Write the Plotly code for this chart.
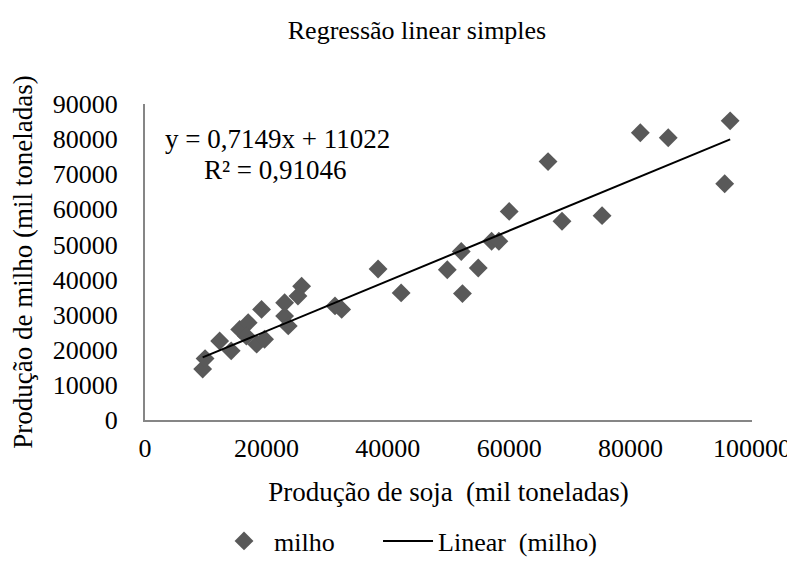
import plotly.graph_objects as go

soja = [9500, 9900, 12300, 14200, 15600, 17000, 16700, 18400, 19700, 19200,
        23000, 23000, 23600, 25800, 25200, 31300, 32400,
        38400, 42200, 49800, 52100, 54900, 52300, 57100, 58300,
        60000, 66400, 68700, 75300, 81600, 86200, 96400, 95500]
milho = [14500, 17500, 22500, 19700, 25800, 27700, 23900, 21600, 23000, 31500,
         33400, 29600, 26800, 38100, 35300, 32500, 31500,
         43000, 36200, 42800, 48000, 43300, 36000, 50900, 50900,
         59400, 73600, 56600, 58200, 81800, 80400, 85200, 67300]

slope = 0.7149
intercept = 11022
r2_text = "R² = 0,91046"
eq_text = "y = 0,7149x + 11022"

x_ticks = [0, 20000, 40000, 60000, 80000, 100000]
y_ticks = [0, 10000, 20000, 30000, 40000, 50000, 60000, 70000, 80000, 90000]

xmin, xmax = min(soja), max(soja)
trend_x = [xmin, xmax]
trend_y = [slope * v + intercept for v in trend_x]

FONT = "Liberation Serif"
FS = 26

# the page body adds an 8px margin, so the figure is drawn 8px smaller
W, H = 787, 561

fig = go.Figure()
fig.add_trace(go.Scatter(
    x=soja, y=milho, mode="markers", name="milho", legend="legend",
    marker=dict(symbol="diamond", size=14.5, color="#595959"),
))
fig.add_trace(go.Scatter(
    x=trend_x, y=trend_y, mode="lines", name="Linear  (milho)", legend="legend2",
    line=dict(color="black", width=2),
))

fig.add_annotation(x=0.0297, y=0.889, xref="paper", yref="paper", text=eq_text,
                   showarrow=False, xanchor="left", yanchor="middle",
                   font=dict(family=FONT, size=27, color="black"))
fig.add_annotation(x=0.0935, y=0.791, xref="paper", yref="paper", text=r2_text,
                   showarrow=False, xanchor="left", yanchor="middle",
                   font=dict(family=FONT, size=27, color="black"))

leg_common = dict(orientation="h", yanchor="middle", y=-0.383, xanchor="left",
                  font=dict(family=FONT, size=FS), itemwidth=50,
                  bgcolor="rgba(0,0,0,0)")

fig.update_layout(
    width=W, height=H,
    paper_bgcolor="white", plot_bgcolor="white",
    margin=dict(l=137, r=43, t=96, b=149, autoexpand=False),
    font=dict(family=FONT, size=FS, color="black"),
    title=dict(text="Regressão linear simples", x=409 / W, xanchor="center",
               y=1 - 22 / H, yanchor="middle", font=dict(family=FONT, size=26)),
    xaxis=dict(range=[0, 100000], tickvals=x_ticks,
               ticktext=[str(v) for v in x_ticks], automargin=False,
               showgrid=False, zeroline=False, showline=True,
               linecolor="#868686", linewidth=2,
               ticks="outside", ticklen=4, tickcolor="rgba(0,0,0,0)",
               tickfont=dict(family=FONT, size=FS),
               title=dict(text="Produção de soja  (mil toneladas)", standoff=20,
                          font=dict(family=FONT, size=27))),
    yaxis=dict(range=[0, 90000], tickvals=y_ticks,
               ticktext=[str(v) for v in y_ticks], automargin=False,
               showgrid=False, zeroline=False, showline=True,
               linecolor="#868686", linewidth=2,
               ticks="outside", ticklen=20, tickcolor="rgba(0,0,0,0)",
               tickfont=dict(family=FONT, size=FS),
               title=dict(text="Produção de milho (mil toneladas)", standoff=18,
                          font=dict(family=FONT, size=27))),
    legend=dict(x=0.1137, **leg_common),
    legend2=dict(x=0.3839, **leg_common),
    showlegend=True,
)

fig.write_html("out.html")
